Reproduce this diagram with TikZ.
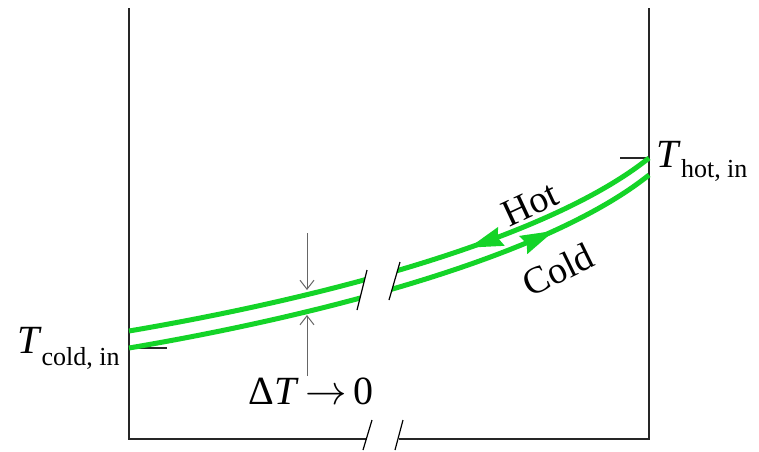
\documentclass[tikz,border=0pt]{standalone}
\usepackage{fontspec}
\setmainfont{Liberation Serif}
\usetikzlibrary{arrows.meta,decorations.markings}
\definecolor{flow}{RGB}{20,212,40}
\newcommand{\lowsub}[2]{\raisebox{-#1}{\fontsize{13}{14}\selectfont #2}}
\begin{document}
\begin{tikzpicture}[x=0.5pt,y=-0.5pt,
  frame/.style={line width=0.8pt, black!85},
  stream/.style={line width=2.5pt, flow},
  breakmark/.style={line width=0.6pt, black},
  gauge/.style={line width=0.5pt, black!60, -{Straight Barb[length=4.5pt,width=7pt]}},
  lbl/.style={font=\fontsize{20}{22}\selectfont, inner sep=0pt},
  flowlbl/.style={font=\fontsize{19}{21}\selectfont, inner sep=0pt},
  headat/.style={postaction={decorate}, decoration={markings, mark=at position #1 with {\fill[flow] (0pt,0pt) -- (-17pt,5pt) -- (-15pt,0pt) -- (-17pt,-5pt) -- cycle;}}}
]
\useasboundingbox (0,0) rectangle (759,451);
% frame
\coordinate (tl) at (129,8); \coordinate (bl) at (129,439);
\coordinate (tr) at (649,8); \coordinate (br) at (649,439);
\coordinate (b1) at (367,439); \coordinate (b2) at (399,439);
\draw[frame] (tl) -- (bl) -- (b1);
\draw[frame] (b2) -- (br) -- (tr);
\draw[breakmark] (363,450) -- (372,420);
\draw[breakmark] (395,450) -- (403,420);
% curve ends
\coordinate (hotR) at (649,158); \coordinate (hotL) at (129,331);
\coordinate (coldL) at (129,348); \coordinate (coldR) at (649,175);
\coordinate (tickR) at (620,158); \coordinate (tickL) at (167,348);
\draw[frame] (tickR) -- (hotR);
\draw[frame] (coldL) -- (tickL);
% streams
\draw[stream, headat=0.365] (hotR) .. controls (549,238) and (329,297) .. (hotL);
\draw[stream, headat=0.80] (coldL) .. controls (329,314) and (549,255) .. (coldR);
% break in the streams
\fill[white] (357,310) -- (367,270) -- (400,262) -- (389,300) -- cycle;
\draw[breakmark] (357,310) -- (367,270);
\draw[breakmark] (389,300) -- (400,262);
% gauge arrows
\coordinate (gTop) at (307,233); \coordinate (gUp) at (307,290);
\coordinate (gBot) at (307,376); \coordinate (gLow) at (307,315);
\draw[gauge] (gTop) -- (gUp);
\draw[gauge] (gBot) -- (gLow);
% labels
\node[lbl, anchor=base west] (thot) at (656,167) {\textit{T}\lowsub{5pt}{hot, in}};
\node[lbl, anchor=base east] (tcold) at (120,353) {\textit{T}\lowsub{6pt}{cold, in}};
\node[flowlbl, rotate=25] (hotlbl) at (530,204) {Hot};
\node[flowlbl, rotate=26] (coldlbl) at (558,270) {Cold};
\node[lbl, anchor=base] (dT) at (311,404) {Δ\textit{T}\,$\rightarrow$\,0};
\end{tikzpicture}
\end{document}
